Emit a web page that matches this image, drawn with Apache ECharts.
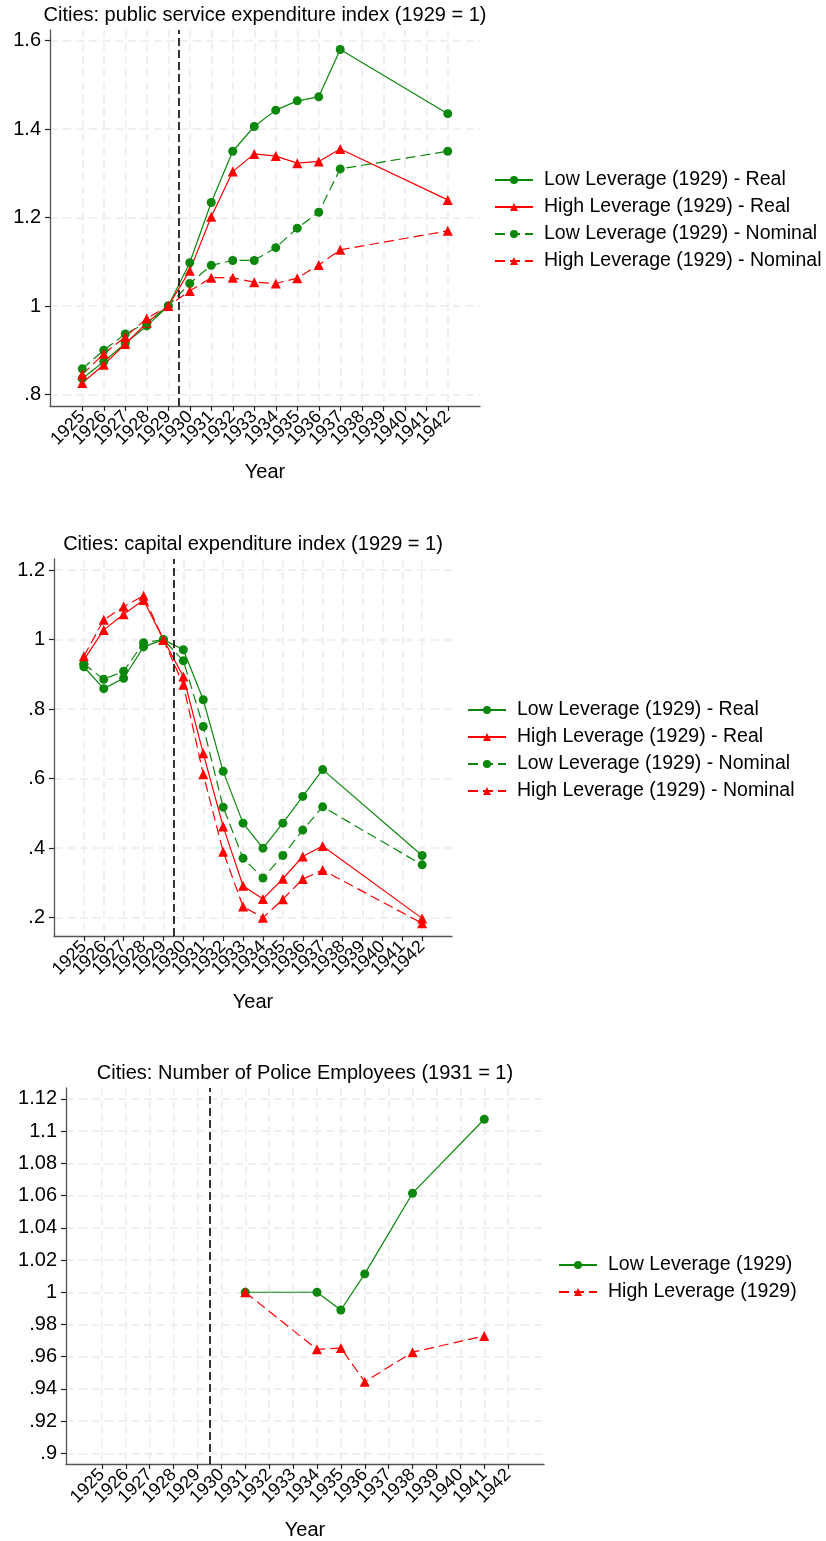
<!DOCTYPE html>
<html>
<head>
<meta charset="utf-8">
<script src="https://cdn.jsdelivr.net/npm/echarts@6/dist/echarts.min.js"></script>
<style>html,body{margin:0;padding:0;background:#fff}#c{width:826px;height:1541px}</style>
</head>
<body>
<div id="c"></div>
<script>
// ---------- data ----------
const xTickYears = [1925,1926,1927,1928,1929,1930,1931,1932,1933,1934,1935,1936,1937,1938,1939,1940,1941,1942];
const expYears = [1925,1926,1927,1928,1929,1930,1931,1932,1933,1934,1935,1936,1937,1942];

// Panel 1: public service expenditure index (1929 = 1)
const psLowReal     = [0.836,0.874,0.916,0.955,1.000,1.098,1.234,1.350,1.406,1.443,1.464,1.473,1.580,1.435];
const psHighReal    = [0.826,0.867,0.914,0.962,1.000,1.080,1.202,1.304,1.344,1.339,1.323,1.327,1.355,1.240];
const psLowNominal  = [0.858,0.900,0.937,0.962,1.000,1.051,1.092,1.103,1.103,1.132,1.176,1.212,1.310,1.350];
const psHighNominal = [0.845,0.892,0.930,0.972,1.000,1.034,1.064,1.064,1.054,1.051,1.063,1.093,1.127,1.170];
const psYTicks = [0.8,1.0,1.2,1.4,1.6];

// Panel 2: capital expenditure index (1929 = 1)
const capLowReal     = [0.922,0.859,0.889,0.979,1.000,0.971,0.827,0.621,0.472,0.400,0.472,0.549,0.626,0.379];
const capHighReal    = [0.942,1.028,1.073,1.114,1.000,0.894,0.673,0.462,0.292,0.254,0.312,0.376,0.406,0.198];
const capLowNominal  = [0.930,0.886,0.909,0.991,1.000,0.939,0.750,0.518,0.371,0.314,0.379,0.452,0.519,0.352];
const capHighNominal = [0.952,1.057,1.095,1.126,1.000,0.870,0.613,0.390,0.232,0.200,0.253,0.311,0.337,0.184];
const capYTicks = [0.2,0.4,0.6,0.8,1.0,1.2];

// Panel 3: number of police employees (1931 = 1)
const policeYears = [1931,1934,1935,1936,1938,1941];
const policeLow   = [1.000,1.000,0.989,1.0114,1.0615,1.1074];
const policeHigh  = [1.000,0.9646,0.9654,0.9445,0.9628,0.9729];
const policeYTicks = [0.90,0.92,0.94,0.96,0.98,1.00,1.02,1.04,1.06,1.08,1.10,1.12];

const breakYear = 1929.5;

const titles = [
  'Cities: public service expenditure index (1929 = 1)',
  'Cities: capital expenditure index (1929 = 1)',
  'Cities: Number of Police Employees (1931 = 1)'
];
const nLowReal = 'Low Leverage (1929) - Real';
const nHighReal = 'High Leverage (1929) - Real';
const nLowNom = 'Low Leverage (1929) - Nominal';
const nHighNom = 'High Leverage (1929) - Nominal';
const nLow = 'Low Leverage (1929)';
const nHigh = 'High Leverage (1929)';

// ---------- styling ----------
const FONT = '"Liberation Sans", Arial, Helvetica, sans-serif';
const GREEN = '#0b870b';
const RED = '#ff0000';
const AXIS = '#555555';
const GRIDC = '#ebebeb';
const X_MIN = 1923.5, X_MAX = 1943.5;

const pair = (xs, ys) => xs.map((x, i) => [x, ys[i]]);
const fmtY = v => String(+(+v).toFixed(2)).replace(/^0\./, '.');
// label positions: the year ticks plus two blank guard labels near the axis ends
const xLabelValues = [X_MIN + 0.1].concat(xTickYears, [X_MAX - 0.1]);

const grids = [
  {left: 50, top: 30, width: 430, height: 376},
  {left: 54, top: 559, width: 398, height: 377},
  {left: 66, top: 1088, width: 478, height: 376}
];
const yRanges = [[0.7739, 1.6242], [0.1473, 1.232], [0.8934, 1.1268]];
const yTickSets = [psYTicks, capYTicks, policeYTicks];

function xAxis(i) {
  return {
    type: 'value', gridIndex: i, min: X_MIN, max: X_MAX,
    name: 'Year', nameLocation: 'middle', nameGap: 56,
    nameTextStyle: {fontFamily: FONT, fontSize: 20, color: '#000'},
    axisLine: {show: true, lineStyle: {color: AXIS, width: 1.3}},
    axisTick: {show: true, length: 5, lineStyle: {color: '#222', width: 1.2}, customValues: xTickYears},
    axisLabel: {rotate: 45, margin: 8, fontFamily: FONT, fontSize: 18, color: '#000', customValues: xLabelValues,
      showMinLabel: false, showMaxLabel: false, hideOverlap: false,
      formatter: v => (Math.abs(v - Math.round(v)) < 1e-6 ? String(Math.round(v)) : ' ')},
    splitLine: {show: true, lineStyle: {color: GRIDC, type: [8, 5], width: 1.5}}
  };
}
function yAxis(i) {
  return {
    type: 'value', gridIndex: i, min: yRanges[i][0], max: yRanges[i][1],
    axisLine: {show: true, lineStyle: {color: AXIS, width: 1.3}},
    axisTick: {show: true, length: 5, lineStyle: {color: '#222', width: 1.2}, customValues: yTickSets[i]},
    axisLabel: {margin: 9, fontFamily: FONT, fontSize: 20, color: '#000', customValues: yTickSets[i],
      showMinLabel: true, showMaxLabel: true, formatter: fmtY},
    splitLine: {show: true, lineStyle: {color: GRIDC, type: [8, 5], width: 1.5}}
  };
}
function line(name, i, xs, ys, color, dashed, symbol, withMark) {
  const s = {
    name, type: 'line', xAxisIndex: i, yAxisIndex: i,
    data: pair(xs, ys),
    symbol, symbolSize: symbol === 'triangle' ? 10 : 9,
    showAllSymbol: true,
    lineStyle: {color, width: 1.2, type: dashed ? [10, 5] : 'solid'},
    itemStyle: {color},
    z: 3,
    animation: false
  };
  if (withMark) {
    s.markLine = {
      silent: true, symbol: 'none', label: {show: false},
      lineStyle: {color: '#000', type: [8, 4], width: 1.6},
      data: [{xAxis: breakYear}],
      animation: false
    };
  }
  return s;
}

const legendText = {fontFamily: FONT, fontSize: 19.5, color: '#000', lineHeight: 22, padding: [0, 0, 0, 6]};

const option = {
  animation: false,
  backgroundColor: '#fff',
  title: [
    {text: titles[0], left: 265, top: 5},
    {text: titles[1], left: 253, top: 534},
    {text: titles[2], left: 305, top: 1063}
  ].map(t => Object.assign(t, {textAlign: 'center', padding: 0,
    textStyle: {fontFamily: FONT, fontSize: 20, fontWeight: 'normal', color: '#000'}})),
  legend: [
    {left: 494, top: 169, data: [nLowReal, nHighReal, nLowNom, nHighNom]},
    {left: 467, top: 699, data: [nLowReal, nHighReal, nLowNom, nHighNom]},
    {left: 558, top: 1254, data: [nLow, nHigh]}
  ].map(l => Object.assign(l, {orient: 'vertical', itemWidth: 38, itemHeight: 10, itemGap: 5,
    padding: 0, textStyle: legendText, selectedMode: false})),
  grid: grids,
  xAxis: [xAxis(0), xAxis(1), xAxis(2)],
  yAxis: [yAxis(0), yAxis(1), yAxis(2)],
  series: [
    line(nLowReal, 0, expYears, psLowReal, GREEN, false, 'circle', true),
    line(nHighReal, 0, expYears, psHighReal, RED, false, 'triangle'),
    line(nLowNom, 0, expYears, psLowNominal, GREEN, true, 'circle'),
    line(nHighNom, 0, expYears, psHighNominal, RED, true, 'triangle'),
    line(nLowReal, 1, expYears, capLowReal, GREEN, false, 'circle', true),
    line(nHighReal, 1, expYears, capHighReal, RED, false, 'triangle'),
    line(nLowNom, 1, expYears, capLowNominal, GREEN, true, 'circle'),
    line(nHighNom, 1, expYears, capHighNominal, RED, true, 'triangle'),
    line(nLow, 2, policeYears, policeLow, GREEN, false, 'circle', true),
    line(nHigh, 2, policeYears, policeHigh, RED, true, 'triangle')
  ]
};

const chart = echarts.init(document.getElementById('c'), null, {renderer: 'canvas'});
chart.setOption(option);
</script>
</body>
</html>
